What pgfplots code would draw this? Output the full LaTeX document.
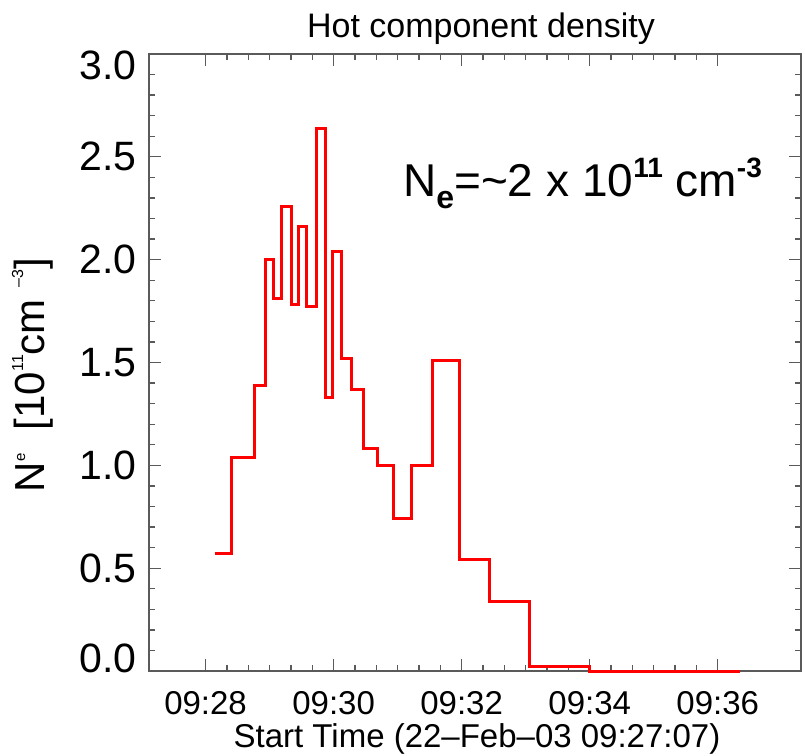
\documentclass[border=0pt]{standalone}
\usepackage{fontspec}
\setmainfont{Liberation Sans}
\usepackage{pgfplots}
\pgfplotsset{compat=1.18}
\definecolor{axisgray}{RGB}{90,90,90}
\newcommand{\fs}[1]{\fontsize{#1}{#1}\selectfont}
\begin{document}
\begin{tikzpicture}[x=1pt,y=1pt]
\useasboundingbox (0,0) rectangle (805,755);
\begin{axis}[
  at={(149pt,84pt)}, anchor=south west,
  scale only axis, width=652pt, height=617pt,
  xmin=27.1167, xmax=37.3, ymin=0, ymax=3,
  xtick={28,30,32,34,36},
  xticklabels={09:28,09:30,09:32,09:34,09:36},
  minor x tick num=5,
  ytick={0,0.5,1,1.5,2,2.5,3},
  yticklabels={\raisebox{13pt}[\height][\depth]{0.0},0.5,1.0,1.5,2.0,2.5,\raisebox{-11pt}[\height][\depth]{3.0}},
  minor y tick num=4,
  major tick length=12pt, minor tick length=6pt,
  tick style={color=axisgray, line width=1.3pt},
  axis line style={color=axisgray, line width=1.8pt},
  xticklabel style={font=\fs{33}, anchor=base, inner sep=0pt, yshift=-43pt},
  yticklabel style={font=\fs{41}, anchor=east, inner sep=0pt, xshift=-12pt},
  clip=false,
]
\addplot[const plot, color=red, line width=3pt] table {
x y
28.14 0.57
28.40 1.04
28.77 1.39
28.93 2.00
29.06 1.81
29.18 2.26
29.34 1.78
29.45 2.16
29.58 1.77
29.73 2.64
29.87 1.33
29.99 2.04
30.13 1.52
30.28 1.37
30.46 1.08
30.68 1.00
30.93 0.74
31.22 1.00
31.55 1.51
31.96 0.54
32.43 0.34
33.06 0.02
34.00 0.00
36.34 0.00
};
\end{axis}
\node[anchor=base, font=\fs{33}] at (477,8) {Start Time (22–Feb–03 09:27:07)};
\node[anchor=base, font=\fs{34}] at (481,717) {Hot component density};
\node[anchor=base, rotate=90, font=\fs{42}] at (44,380) {N\raisebox{0.45em}{\fs{15}e}\ \ [10\raisebox{0.5em}{\fs{16}11}cm\ \raisebox{0.5em}{\fs{16}–3}]};
\node[anchor=base west, inner sep=0pt, font=\fs{46}] at (403,558) {N\raisebox{-0.25em}{\fs{32}\bfseries e}=\textasciitilde 2 x 10\raisebox{0.42em}{\fs{28}\bfseries 11} cm\raisebox{0.42em}{\fs{28}\bfseries -3}};
\end{tikzpicture}
\end{document}
